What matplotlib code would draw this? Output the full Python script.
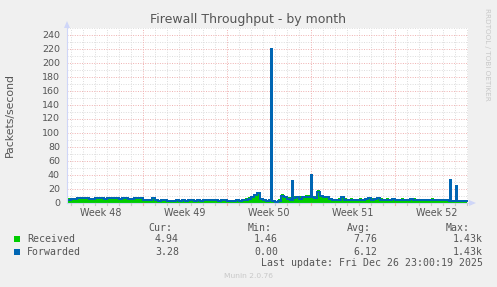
import numpy as np
import matplotlib
matplotlib.use("Agg")
import matplotlib.pyplot as plt
from matplotlib.patches import Rectangle, Polygon

# ---------------- data ----------------
title = "Firewall Throughput - by month"
y_label = "Packets/second"
week_labels = ["Week 48", "Week 49", "Week 50", "Week 51", "Week 52"]
week_centers = [3.5, 10.5, 17.5, 24.5, 31.5]     # days since Mon Nov 24
week_starts = [7, 14, 21, 28]
y_ticks = list(range(0, 241, 20))

start_day = 0.75     # first sample (days since Nov 24 00:00)
step_days = 0.25     # 6-hour samples

forwarded = [
    5, 5.5, 6, 7, 7.5, 7, 6.5, 5.5, 6, 7, 7.5, 7, 6, 6.5, 7.5, 7.5, 6.5, 5.5, 6.5, 7, 6, 5.5, 6.5, 7.5, 6.5,
    5, 4.5, 5, 6.5, 4, 3.5, 4, 4, 3.5, 3, 3.5, 4, 3.5, 5, 3.5, 5, 4, 3.5, 4, 3.5, 4, 4.5, 4, 5, 4, 3.5, 4, 5,
    3.5, 3, 3.5, 4, 3.5, 4, 4.5, 6, 8, 11, 15, 6, 4, 3.5, 4, 3, 2, 3, 10, 8, 6, 5, 7, 8, 6, 8, 9, 9,
    8, 7, 16, 10, 9, 9, 6, 4, 4, 5, 8, 5, 4, 5, 4.5, 4, 5, 4.5, 6, 7, 5, 6, 6.5, 5, 4, 5, 4.5, 5.5,
    4.5, 4, 5, 4.5, 4, 5.5, 5, 4, 4.5, 4, 4.5, 4, 5, 4.5, 4, 4.5, 4, 4, 3.5, 3.5, 3.5, 3, 3.5, 3.5,
]
received = [
    6.5, 7, 7.5, 8.5, 9, 8.5, 8, 7, 7.5, 8.5, 9, 8.5, 7.5, 8, 9, 9, 8, 7, 8, 8.5, 7.5, 7, 8, 9, 8,
    6, 5.5, 6, 7.5, 5, 4.5, 5, 5, 4.5, 4, 4.5, 5, 4.5, 6, 4.5, 6, 5, 4.5, 5, 4.5, 5, 5.5, 5, 6, 5, 4.5, 5, 6,
    4.5, 4, 4.5, 5, 4.5, 5.5, 6.5, 8.5, 10.5, 12.5, 16, 7.5, 5.5, 5, 5.5, 4.5, 3.5, 5.5, 13, 10.5, 8.5, 8.5, 9.5, 10.5, 9.5, 10.5, 11.5, 11.5,
    10.5, 9.5, 18, 11.5, 10.5, 10.5, 7.5, 5.5, 5.5, 6.5, 9.5, 6.5, 5.5, 6.5, 6, 5.5, 6.5, 6, 7.5, 8.5, 6.5, 7.5, 8, 6.5, 5.5, 6.5, 6, 7,
    6, 5.5, 6.5, 6, 5.5, 7, 6.5, 5.5, 6, 5.5, 6, 5.5, 6.5, 6, 5.5, 6, 5.5, 5.5, 5, 5, 5, 4.5, 5, 5,
]

# short (2 h) peaks
spike_days = [17.72, 19.42, 21.08, 32.66, 33.16]
spike_forwarded = [220, 32, 40, 33, 24]
spike_received = [221, 33, 41, 34, 25]
spike_width = 1.0 / 12

legend_names = ["Received", "Forwarded"]
legend_colors = ["#00CC00", "#0066B3"]
stat_headers = ["Cur:", "Min:", "Avg:", "Max:"]
stats = [["4.94", "1.46", "7.76", "1.43k"],
         ["3.28", "0.00", "6.12", "1.43k"]]
last_update = "Last update: Fri Dec 26 23:00:19 2025"
munin_version = "Munin 2.0.76"
rrd_credit = "RRDTOOL / TOBI OETIKER"

# ---------------- build step series ----------------
n = len(forwarded)
base_t = [start_day + step_days * k for k in range(n + 1)]


def merge(values, sdays, svals):
    t = list(base_t)
    v = list(values) + [values[-1]]
    for d, val in zip(sdays, svals):
        k = int(np.searchsorted(t, d, side="right")) - 1
        after = v[k]
        t.insert(k + 1, d)
        v.insert(k + 1, val)
        t.insert(k + 2, d + spike_width)
        v.insert(k + 2, after)
    return np.array(t), np.array(v)


t_r, v_r = merge(received, spike_days, spike_received)
t_f, v_f = merge(forwarded, spike_days, spike_forwarded)

# ---------------- figure ----------------
W, H = 497, 287
fig = plt.figure(figsize=(W / 100, H / 100), dpi=100, facecolor="#F0F0F0")
x0, x1, ytop, ybot = 67, 468, 28, 203
ax = fig.add_axes([x0 / W, (H - ybot) / H, (x1 - x0) / W, (ybot - ytop) / H])
ax.set_facecolor("white")
for s in ax.spines.values():
    s.set_visible(False)

xmin = 7 + (x0 - 142.5) / 12
xmax = 7 + (x1 - 142.5) / 12
ax.set_xlim(xmin, xmax)
ax.set_ylim(0, 250)

# grid (light dotted lines)
dot = (0, (1, 1.5))
minor_col = "#DCDCDC"
major_col = "#EFB0B0"
for d in np.arange(1, 35, 1):
    if xmin < d < xmax and d not in week_starts:
        ax.axvline(d, color=minor_col, lw=0.7, ls=dot, zorder=1)
for yv in range(10, 251, 20):
    ax.axhline(yv, color=minor_col, lw=0.7, ls=dot, zorder=1)
for yv in range(20, 241, 20):
    ax.axhline(yv, color=major_col, lw=0.7, ls=dot, zorder=1.1)
for d in week_starts:
    ax.axvline(d, color=major_col, lw=0.7, ls=dot, zorder=1.1)

# data
ax.fill_between(t_r, 0, v_r, step="post", color=legend_colors[0], lw=0, zorder=2,
                antialiased=False)
ax.step(t_f, v_f, where="post", color=legend_colors[1], lw=1.44, zorder=3,
        antialiased=False)

ax.set_xticks([])
ax.set_yticks([])

# axes lines (light blue) and arrows
axis_col = "#CFD6F8"
fig.add_artist(plt.Line2D([x0 / W, x0 / W], [(H - ybot) / H, (H - 26) / H],
                          transform=fig.transFigure, color=axis_col, lw=0.8))
fig.add_artist(plt.Line2D([x0 / W, 470 / W], [(H - ybot) / H, (H - ybot) / H],
                          transform=fig.transFigure, color=axis_col, lw=0.8))
fig.add_artist(Polygon([[(x0 - 3) / W, (H - 28) / H], [(x0 + 3) / W, (H - 28) / H],
                        [x0 / W, (H - 21) / H]], closed=True, transform=fig.transFigure,
                       color=axis_col, lw=0))
fig.add_artist(Polygon([[469 / W, (H - 200) / H], [469 / W, (H - 206) / H],
                        [476 / W, (H - 203) / H]], closed=True, transform=fig.transFigure,
                       color=axis_col, lw=0))

# tick marks on x axis
for d in np.arange(1, 35, 1):
    if xmin < d < xmax:
        col = major_col if d in week_starts else "#C8C8C8"
        px = 142.5 + (d - 7) * 12
        fig.add_artist(plt.Line2D([px / W, px / W], [(H - 203) / H, (H - 205) / H],
                                  transform=fig.transFigure, color=col, lw=0.8))

txt = "#555555"
# y tick labels
for yv in y_ticks:
    py = ybot - yv * 0.7
    fig.text(60 / W, 1 - py / H, str(yv), ha="right", va="center", fontsize=6.8,
             color=txt, family="DejaVu Sans")
# week labels
for c, lab in zip(week_centers, week_labels):
    px = 142.5 + (c - 7) * 12
    fig.text(px / W, 1 - 213 / H, lab, ha="center", va="center", fontsize=6.9,
             color=txt, family="DejaVu Sans")

fig.text(248 / W, 1 - 19 / H, title, ha="center", va="center", fontsize=9,
         color=txt, family="DejaVu Sans")
fig.text(10 / W, 1 - 115 / H, y_label, ha="center", va="center", rotation=90,
         fontsize=7.8, color=txt, family="DejaVu Sans")
fig.text(487 / W, 1 - 8 / H, rrd_credit, ha="center", va="top", rotation=270,
         fontsize=5.2, color="#C8C8C8", family="DejaVu Sans")

# legend
mono = "DejaVu Sans Mono"
fs = 7.1
hdr_right = [172, 272, 371, 470]
val_right = [179, 278, 377, 483]
for hx, h in zip(hdr_right, stat_headers):
    fig.text(hx / W, 1 - 228 / H, h, ha="right", va="center", fontsize=fs,
             color=txt, family=mono)
row_y = [239, 252]
for ry, name, col, row in zip(row_y, legend_names, legend_colors, stats):
    fig.add_artist(Rectangle((14 / W, 1 - (ry + 3) / H), 6 / W, 6 / H,
                             transform=fig.transFigure, color=col, lw=0))
    fig.text(27 / W, 1 - ry / H, name, ha="left", va="center", fontsize=fs,
             color=txt, family=mono)
    for vx, v in zip(val_right, row):
        fig.text(vx / W, 1 - ry / H, v, ha="right", va="center", fontsize=fs,
                 color=txt, family=mono)
fig.text(483 / W, 1 - 263 / H, last_update, ha="right", va="center", fontsize=fs,
         color=txt, family=mono)
fig.text(248 / W, 1 - 276 / H, munin_version, ha="center", va="center", fontsize=5.4,
         color="#C8C8C8", family="DejaVu Sans")

fig.savefig("out.png", dpi=100, facecolor=fig.get_facecolor())
